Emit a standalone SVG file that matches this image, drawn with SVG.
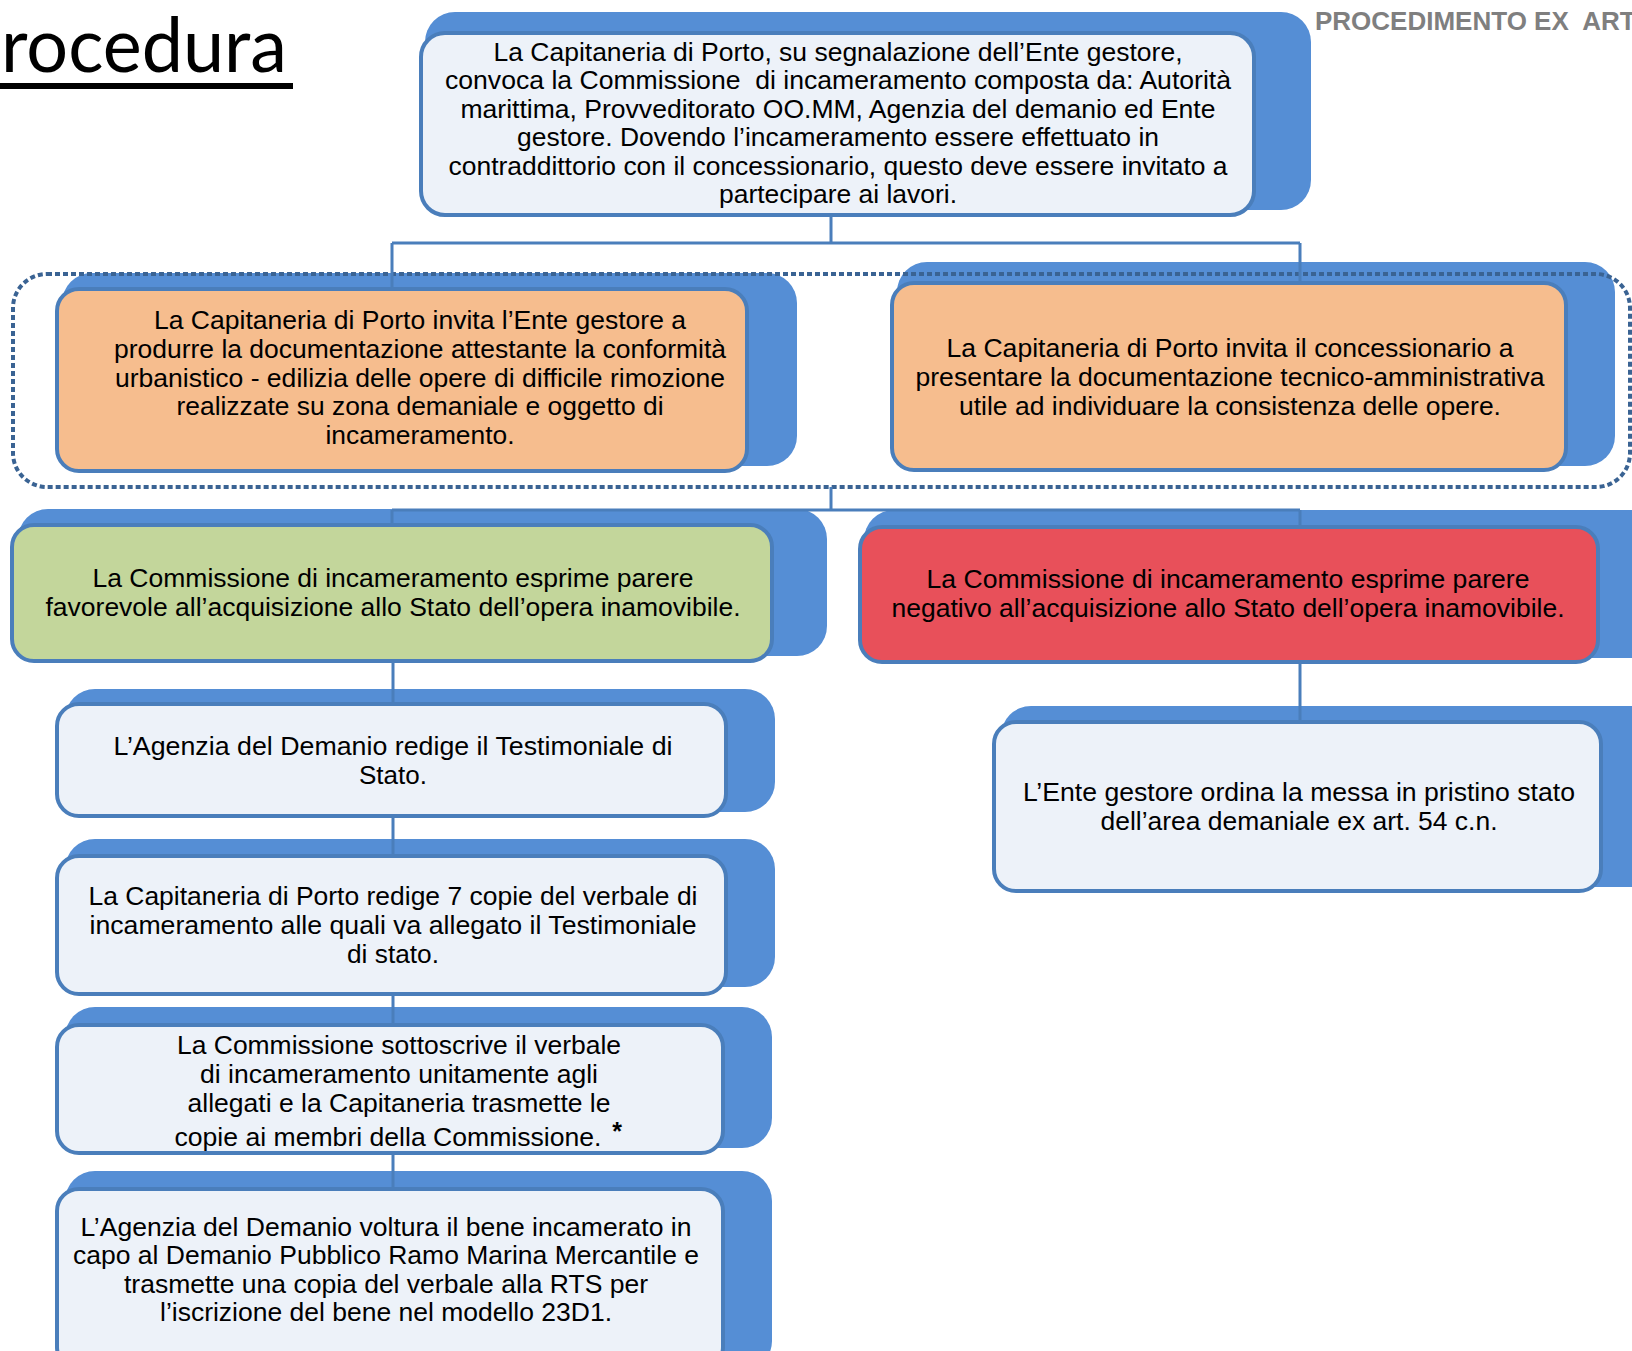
<svg xmlns="http://www.w3.org/2000/svg" width="1632" height="1351" viewBox="0 0 1632 1351">
<style>
.back{fill:#558ED5;}
.front{stroke:#4A7EBB;stroke-width:4;}
.light{fill:#EDF2F9;}
.orange{fill:#F6BD8E;}
.green{fill:#C3D69B;}
.red{fill:#E8505A;}
.t{font-family:"Liberation Sans Narrow","Arial Narrow","Liberation Sans",Arial,sans-serif;font-size:25px;fill:#000;text-anchor:middle;}
.conn{fill:none;stroke:#4A7EBB;stroke-width:3;}
.dotted{fill:none;stroke:#3A6393;stroke-width:4;stroke-dasharray:5 3;}
</style>
<rect width="1632" height="1351" fill="#fff"/>
<g id="title">
<text x="1" y="72" font-family="Lato,'Open Sans',sans-serif" font-size="76" textLength="286" lengthAdjust="spacingAndGlyphs">rocedura</text>
<rect x="0" y="83" width="293" height="6" fill="#000"/>
</g>
<g id="header">
<text x="1315" y="30" xml:space="preserve" style="white-space:pre" font-family="'Liberation Sans',Arial,sans-serif" font-size="26" font-weight="bold" fill="#7F7F7F">PROCEDIMENTO EX  ART</text>
</g>

<g id="node-top">
<rect class="back" x="425" y="12" width="886" height="198" rx="30"/>
<rect class="front light" x="421" y="33" width="833" height="182" rx="24"/>
<text class="t" x="838" y="61" textLength="689" lengthAdjust="spacingAndGlyphs">La Capitaneria di Porto, su segnalazione dell’Ente gestore,</text>
<text class="t" x="838" y="89" xml:space="preserve" style="white-space:pre" textLength="786" lengthAdjust="spacingAndGlyphs">convoca la Commissione  di incameramento composta da: Autorità</text>
<text class="t" x="838" y="118" textLength="755" lengthAdjust="spacingAndGlyphs">marittima, Provveditorato OO.MM, Agenzia del demanio ed Ente</text>
<text class="t" x="838" y="146" textLength="642" lengthAdjust="spacingAndGlyphs">gestore. Dovendo l’incameramento essere effettuato in</text>
<text class="t" x="838" y="175" textLength="779" lengthAdjust="spacingAndGlyphs">contraddittorio con il concessionario, questo deve essere invitato a</text>
<text class="t" x="838" y="203" textLength="238" lengthAdjust="spacingAndGlyphs">partecipare ai lavori.</text>
</g>

<g id="node-ente-doc">
<rect class="back" x="62" y="273" width="735" height="193" rx="30"/>
<rect class="front orange" x="57" y="289" width="690" height="182" rx="22"/>
<text class="t" x="420" y="329" textLength="532" lengthAdjust="spacingAndGlyphs">La Capitaneria di Porto invita l’Ente gestore a</text>
<text class="t" x="420" y="358" textLength="612" lengthAdjust="spacingAndGlyphs">produrre la documentazione attestante la conformità</text>
<text class="t" x="420" y="387" textLength="610" lengthAdjust="spacingAndGlyphs">urbanistico - edilizia delle opere di difficile rimozione</text>
<text class="t" x="420" y="415" textLength="487" lengthAdjust="spacingAndGlyphs">realizzate su zona demaniale e oggetto di</text>
<text class="t" x="420" y="444" textLength="189" lengthAdjust="spacingAndGlyphs">incameramento.</text>
</g>

<g id="node-concessionario-doc">
<rect class="back" x="897" y="262" width="718" height="204" rx="30"/>
<rect class="front orange" x="892" y="283" width="674" height="187" rx="22"/>
<text class="t" x="1230" y="357" textLength="567" lengthAdjust="spacingAndGlyphs">La Capitaneria di Porto invita il concessionario a</text>
<text class="t" x="1230" y="386" textLength="629" lengthAdjust="spacingAndGlyphs">presentare la documentazione tecnico-amministrativa</text>
<text class="t" x="1230" y="415" textLength="542" lengthAdjust="spacingAndGlyphs">utile ad individuare la consistenza delle opere.</text>
</g>

<g id="node-favorevole">
<rect class="back" x="18" y="509" width="809" height="147" rx="30"/>
<rect class="front green" x="12" y="525" width="760" height="136" rx="22"/>
<text class="t" x="393" y="587" textLength="601" lengthAdjust="spacingAndGlyphs">La Commissione di incameramento esprime parere</text>
<text class="t" x="393" y="616" textLength="695" lengthAdjust="spacingAndGlyphs">favorevole all’acquisizione allo Stato dell’opera inamovibile.</text>
</g>

<g id="node-negativo">
<rect class="back" x="864" y="510" width="800" height="148" rx="30"/>
<rect class="front red" x="860" y="527" width="738" height="135" rx="22"/>
<text class="t" x="1228" y="588" textLength="603" lengthAdjust="spacingAndGlyphs">La Commissione di incameramento esprime parere</text>
<text class="t" x="1228" y="617" textLength="673" lengthAdjust="spacingAndGlyphs">negativo all’acquisizione allo Stato dell’opera inamovibile.</text>
</g>

<g id="node-testimoniale">
<rect class="back" x="65" y="689" width="710" height="123" rx="30"/>
<rect class="front light" x="57" y="704" width="669" height="112" rx="22"/>
<text class="t" x="393" y="755" textLength="559" lengthAdjust="spacingAndGlyphs">L’Agenzia del Demanio redige il Testimoniale di</text>
<text class="t" x="393" y="784" textLength="68" lengthAdjust="spacingAndGlyphs">Stato.</text>
</g>

<g id="node-pristino">
<rect class="back" x="1001" y="706" width="660" height="181" rx="30"/>
<rect class="front light" x="994" y="722" width="607" height="169" rx="22"/>
<text class="t" x="1299" y="801" textLength="552" lengthAdjust="spacingAndGlyphs">L’Ente gestore ordina la messa in pristino stato</text>
<text class="t" x="1299" y="830" textLength="397" lengthAdjust="spacingAndGlyphs">dell’area demaniale ex art. 54 c.n.</text>
</g>

<g id="node-verbale">
<rect class="back" x="65" y="839" width="710" height="148" rx="30"/>
<rect class="front light" x="57" y="856" width="669" height="138" rx="22"/>
<text class="t" x="393" y="905" textLength="609" lengthAdjust="spacingAndGlyphs">La Capitaneria di Porto redige 7 copie del verbale di</text>
<text class="t" x="393" y="934" textLength="607" lengthAdjust="spacingAndGlyphs">incameramento alle quali va allegato il Testimoniale</text>
<text class="t" x="393" y="963" textLength="92" lengthAdjust="spacingAndGlyphs">di stato.</text>
</g>

<g id="node-sottoscrive">
<rect class="back" x="65" y="1007" width="707" height="141" rx="30"/>
<rect class="front light" x="57" y="1025" width="666" height="128" rx="22"/>
<text class="t" x="399" y="1054" textLength="444" lengthAdjust="spacingAndGlyphs">La Commissione sottoscrive il verbale</text>
<text class="t" x="399" y="1083" textLength="398" lengthAdjust="spacingAndGlyphs">di incameramento unitamente agli</text>
<text class="t" x="399" y="1112" textLength="423" lengthAdjust="spacingAndGlyphs">allegati e la Capitaneria trasmette le</text>
<text class="t" x="388" y="1146" textLength="427" lengthAdjust="spacingAndGlyphs">copie ai membri della Commissione.</text>
<text class="t" x="617" y="1140" font-weight="bold">*</text>
</g>

<g id="node-voltura">
<rect class="back" x="65" y="1171" width="707" height="200" rx="30"/>
<rect class="front light" x="57" y="1189" width="666" height="180" rx="22"/>
<text class="t" x="386" y="1236" textLength="611" lengthAdjust="spacingAndGlyphs">L’Agenzia del Demanio voltura il bene incamerato in</text>
<text class="t" x="386" y="1264" textLength="626" lengthAdjust="spacingAndGlyphs">capo al Demanio Pubblico Ramo Marina Mercantile e</text>
<text class="t" x="386" y="1293" textLength="524" lengthAdjust="spacingAndGlyphs">trasmette una copia del verbale alla RTS per</text>
<text class="t" x="386" y="1321" textLength="452" lengthAdjust="spacingAndGlyphs">l’iscrizione del bene nel modello 23D1.</text>
</g>

<g id="group-frame">
<rect class="dotted" x="13" y="274" width="1617" height="213" rx="34"/>
</g>

<g id="connectors">
<path class="conn" d="M831 215 V243 M392 243 H1300 M392 243 V289 M1300 243 V281"/>
<path class="conn" d="M831 487 V510 M392 510 H1300 M392 510 V525 M1300 510 V527"/>
<path class="conn" d="M393 661 V704 M393 816 V856 M393 994 V1025 M393 1153 V1189"/>
<path class="conn" d="M1300 662 V722"/>
</g>
</svg>
